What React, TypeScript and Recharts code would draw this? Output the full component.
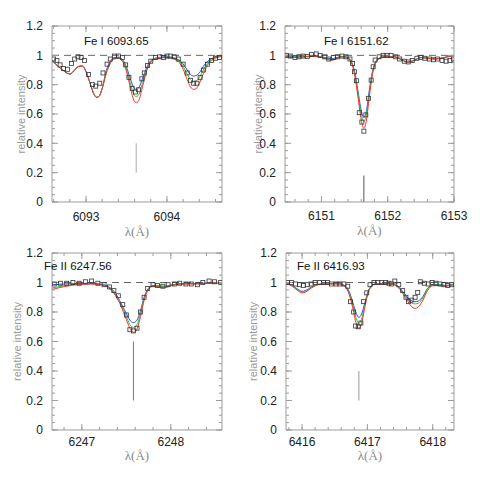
import React from 'react';
import { ComposedChart, Line, Scatter, XAxis, YAxis, ReferenceLine, Label } from 'recharts';

// ---------- shared tick labels ----------
const yMajor = [0, 0.2, 0.4, 0.6, 0.8, 1, 1.2];
const yMinor = [0, 0.05, 0.1, 0.15, 0.2, 0.25, 0.3, 0.35, 0.4, 0.45, 0.5, 0.55, 0.6, 0.65, 0.7, 0.75, 0.8, 0.85, 0.9, 0.95, 1, 1.05, 1.1, 1.15, 1.2];

// ---------- panel 1 : Fe I 6093.65 ----------
const p1Major = [6093, 6094];
const p1Minor = [6092.6, 6092.8, 6093.0, 6093.2, 6093.4, 6093.6, 6093.8, 6094.0, 6094.2, 6094.4, 6094.6];
const p1Grid = [6092.58, 6092.7, 6092.8, 6092.9, 6092.95, 6093.0, 6093.05, 6093.1, 6093.13, 6093.16, 6093.2, 6093.25, 6093.3, 6093.35, 6093.4, 6093.45, 6093.5, 6093.55, 6093.59, 6093.62, 6093.65, 6093.7, 6093.75, 6093.8, 6093.85, 6093.9, 6094.0, 6094.1, 6094.15, 6094.2, 6094.25, 6094.29, 6094.33, 6094.37, 6094.41, 6094.45, 6094.5, 6094.55, 6094.6, 6094.7];
const p1Red = [0.965, 0.905, 0.873, 0.922, 0.928, 0.89, 0.81, 0.733, 0.714, 0.72, 0.775, 0.875, 0.945, 0.975, 0.98, 0.96, 0.89, 0.775, 0.695, 0.677, 0.69, 0.79, 0.895, 0.952, 0.973, 0.98, 0.985, 0.972, 0.952, 0.905, 0.835, 0.785, 0.768, 0.778, 0.82, 0.875, 0.932, 0.963, 0.98, 0.995];
const p1Green = [0.965, 0.905, 0.873, 0.922, 0.928, 0.89, 0.81, 0.733, 0.714, 0.72, 0.775, 0.885, 0.952, 0.98, 0.985, 0.966, 0.905, 0.805, 0.735, 0.718, 0.73, 0.815, 0.905, 0.958, 0.977, 0.984, 0.988, 0.977, 0.962, 0.925, 0.872, 0.835, 0.82, 0.828, 0.858, 0.9, 0.945, 0.97, 0.984, 0.996];
const p1Blue = [0.965, 0.905, 0.873, 0.922, 0.928, 0.89, 0.81, 0.733, 0.714, 0.72, 0.775, 0.895, 0.958, 0.984, 0.988, 0.972, 0.92, 0.835, 0.78, 0.768, 0.778, 0.845, 0.918, 0.963, 0.98, 0.986, 0.99, 0.98, 0.968, 0.942, 0.9, 0.87, 0.859, 0.865, 0.888, 0.925, 0.958, 0.977, 0.988, 0.997];
const p1ObsX = [6092.6, 6092.64, 6092.68, 6092.72, 6092.77, 6092.82, 6092.86, 6092.9, 6092.94, 6092.98, 6093.03, 6093.08, 6093.12, 6093.17, 6093.21, 6093.26, 6093.3, 6093.35, 6093.4, 6093.45, 6093.49, 6093.53, 6093.57, 6093.61, 6093.65, 6093.69, 6093.72, 6093.76, 6093.8, 6093.86, 6093.91, 6093.96, 6094.0, 6094.04, 6094.09, 6094.14, 6094.2, 6094.25, 6094.29, 6094.33, 6094.37, 6094.41, 6094.45, 6094.5, 6094.55, 6094.6, 6094.65];
const p1ObsY = [0.975, 0.965, 0.935, 0.91, 0.905, 0.945, 0.975, 0.99, 0.985, 0.965, 0.87, 0.8, 0.79, 0.81, 0.88, 0.94, 0.975, 0.995, 0.995, 0.985, 0.935, 0.85, 0.775, 0.75, 0.765, 0.84, 0.88, 0.93, 0.96, 0.985, 0.99, 0.985, 0.995, 0.995, 0.99, 0.975, 0.94, 0.88, 0.83, 0.81, 0.81, 0.85, 0.9, 0.94, 0.965, 0.98, 0.985];

// ---------- panel 2 : Fe I 6151.62 ----------
const p2Major = [6151, 6152, 6153];
const p2Minor = [6150.6, 6150.8, 6151.0, 6151.2, 6151.4, 6151.6, 6151.8, 6152.0, 6152.2, 6152.4, 6152.6, 6152.8, 6153.0];
const p2Grid = [6150.45, 6150.6, 6150.75, 6150.9, 6151.0, 6151.1, 6151.16, 6151.22, 6151.3, 6151.38, 6151.45, 6151.5, 6151.55, 6151.6, 6151.64, 6151.68, 6151.72, 6151.77, 6151.82, 6151.88, 6151.95, 6152.1, 6152.2, 6152.3, 6152.4, 6152.5, 6152.6, 6152.7, 6152.8, 6152.9, 6153.0];
const p2Red = [0.99, 0.985, 0.99, 0.992, 0.985, 0.972, 0.966, 0.975, 0.99, 0.985, 0.95, 0.87, 0.72, 0.56, 0.502, 0.56, 0.71, 0.87, 0.95, 0.98, 0.99, 0.99, 0.972, 0.952, 0.965, 0.985, 0.98, 0.975, 0.98, 0.99, 1.0];
const p2Green = [0.992, 0.988, 0.992, 0.994, 0.988, 0.976, 0.972, 0.979, 0.992, 0.987, 0.955, 0.88, 0.74, 0.6, 0.547, 0.6, 0.735, 0.88, 0.955, 0.982, 0.99, 0.99, 0.972, 0.954, 0.966, 0.985, 0.98, 0.975, 0.98, 0.99, 1.0];
const p2Blue = [0.994, 0.99, 0.993, 0.995, 0.99, 0.98, 0.977, 0.983, 0.993, 0.989, 0.96, 0.89, 0.76, 0.625, 0.577, 0.625, 0.755, 0.89, 0.958, 0.983, 0.99, 0.99, 0.973, 0.956, 0.967, 0.985, 0.98, 0.975, 0.98, 0.99, 1.0];
const p2ObsX = [6150.47, 6150.53, 6150.6, 6150.66, 6150.72, 6150.79, 6150.85, 6150.92, 6150.98, 6151.05, 6151.11, 6151.18, 6151.24, 6151.31, 6151.37, 6151.43, 6151.47, 6151.5, 6151.53, 6151.57, 6151.61, 6151.64, 6151.67, 6151.71, 6151.75, 6151.78, 6151.81, 6151.87, 6151.93, 6151.99, 6152.05, 6152.12, 6152.18, 6152.25, 6152.31, 6152.37, 6152.44, 6152.5, 6152.56, 6152.63, 6152.69, 6152.75, 6152.82, 6152.88, 6152.94, 6152.99];
const p2ObsY = [1.0, 0.995, 0.985, 0.99, 0.995, 0.993, 1.005, 1.01, 1.0, 0.99, 0.975, 0.985, 0.99, 0.995, 0.99, 0.975, 0.945, 0.888, 0.827, 0.609, 0.545, 0.483, 0.594, 0.707, 0.831, 0.922, 0.968, 0.99, 1.0, 1.0, 1.0, 0.99, 0.975, 0.96, 0.955, 0.965, 0.98, 0.985, 0.98, 0.975, 0.97, 0.975, 0.965, 0.96, 0.965, 0.975];

// ---------- panel 3 : Fe II 6247.56 ----------
const p3Major = [6247, 6248];
const p3Minor = [6246.8, 6247.0, 6247.2, 6247.4, 6247.6, 6247.8, 6248.0, 6248.2, 6248.4];
const p3Grid = [6246.665, 6246.8, 6246.9, 6247.0, 6247.1, 6247.2, 6247.3, 6247.38, 6247.44, 6247.5, 6247.54, 6247.58, 6247.62, 6247.66, 6247.7, 6247.75, 6247.8, 6247.87, 6247.93, 6248.0, 6248.1, 6248.2, 6248.3, 6248.4, 6248.5, 6248.58];
const p3Red = [0.952, 0.972, 0.982, 0.988, 0.99, 0.985, 0.965, 0.91, 0.84, 0.75, 0.69, 0.662, 0.685, 0.77, 0.88, 0.955, 0.975, 0.968, 0.965, 0.978, 0.99, 0.99, 0.99, 0.995, 0.998, 0.998];
const p3Green = [0.963, 0.978, 0.986, 0.99, 0.992, 0.987, 0.968, 0.915, 0.85, 0.77, 0.715, 0.696, 0.715, 0.79, 0.89, 0.958, 0.978, 0.972, 0.97, 0.98, 0.99, 0.992, 0.992, 0.995, 0.998, 0.998];
const p3Blue = [0.985, 0.99, 0.992, 0.994, 0.995, 0.99, 0.972, 0.925, 0.86, 0.79, 0.745, 0.728, 0.745, 0.81, 0.9, 0.962, 0.98, 0.977, 0.975, 0.983, 0.992, 0.993, 0.993, 0.996, 0.998, 0.998];
const p3ObsX = [6246.69, 6246.76, 6246.83, 6246.9, 6246.97, 6247.04, 6247.11, 6247.18, 6247.25, 6247.31, 6247.36, 6247.41, 6247.46, 6247.5, 6247.54, 6247.58, 6247.62, 6247.66, 6247.7, 6247.74, 6247.8, 6247.85, 6247.91, 6247.97, 6248.04, 6248.1, 6248.17, 6248.23, 6248.3, 6248.36, 6248.43, 6248.49, 6248.56];
const p3ObsY = [0.99, 0.995, 0.995, 1.0, 0.995, 1.005, 1.01, 0.995, 0.985, 0.97, 0.945, 0.91, 0.85, 0.78, 0.68, 0.672, 0.69, 0.8, 0.9, 0.96, 0.985, 0.98, 0.975, 0.985, 0.99, 0.995, 0.99, 0.99, 0.985, 1.0, 1.01, 1.005, 1.0];

// ---------- panel 4 : Fe II 6416.93 ----------
const p4Major = [6416, 6417, 6418];
const p4Minor = [6415.8, 6416.0, 6416.2, 6416.4, 6416.6, 6416.8, 6417.0, 6417.2, 6417.4, 6417.6, 6417.8, 6418.0, 6418.2];
const p4Grid = [6415.755, 6415.85, 6415.95, 6416.0, 6416.05, 6416.15, 6416.25, 6416.4, 6416.55, 6416.65, 6416.72, 6416.78, 6416.83, 6416.87, 6416.91, 6416.96, 6417.02, 6417.1, 6417.2, 6417.35, 6417.45, 6417.55, 6417.62, 6417.68, 6417.73, 6417.78, 6417.85, 6417.92, 6418.0, 6418.1, 6418.2, 6418.33];
const p4Red = [0.995, 0.975, 0.94, 0.93, 0.935, 0.965, 0.985, 0.99, 0.99, 0.975, 0.92, 0.82, 0.72, 0.689, 0.72, 0.83, 0.94, 0.985, 0.99, 0.99, 0.975, 0.92, 0.87, 0.835, 0.825, 0.835, 0.88, 0.945, 0.978, 0.98, 0.975, 0.985];
const p4Green = [1.0, 0.978, 0.945, 0.935, 0.94, 0.968, 0.987, 0.992, 0.992, 0.978, 0.93, 0.84, 0.755, 0.723, 0.75, 0.845, 0.945, 0.987, 0.992, 0.992, 0.978, 0.93, 0.885, 0.86, 0.855, 0.86, 0.895, 0.955, 0.98, 0.985, 0.978, 0.988];
const p4Blue = [1.0, 0.98, 0.95, 0.94, 0.945, 0.97, 0.988, 0.993, 0.993, 0.98, 0.94, 0.86, 0.79, 0.764, 0.785, 0.86, 0.95, 0.988, 0.993, 0.993, 0.98, 0.935, 0.895, 0.875, 0.87, 0.875, 0.905, 0.96, 0.982, 0.986, 0.98, 0.99];
const p4ObsX = [6415.78, 6415.84, 6415.9, 6415.96, 6416.02, 6416.08, 6416.14, 6416.2, 6416.27, 6416.33, 6416.39, 6416.45, 6416.52, 6416.58, 6416.64, 6416.7, 6416.74, 6416.79, 6416.82, 6416.86, 6416.9, 6416.94, 6416.99, 6417.04, 6417.1, 6417.16, 6417.22, 6417.28, 6417.33, 6417.37, 6417.42, 6417.48, 6417.54, 6417.59, 6417.63, 6417.67, 6417.73, 6417.77, 6417.81, 6417.87, 6417.93, 6417.99, 6418.05, 6418.11, 6418.17, 6418.23, 6418.29];
const p4ObsY = [1.0, 1.0, 0.99, 0.985, 0.98, 0.985, 0.99, 1.0, 1.0, 1.0, 1.0, 0.99, 0.99, 0.99, 0.99, 0.975, 0.87, 0.8, 0.705, 0.7, 0.725, 0.87, 0.93, 0.985, 1.0, 1.0, 1.0, 1.0, 0.995, 0.99, 1.01, 0.985, 0.945, 0.9, 0.87, 0.88, 0.9, 0.933, 1.005, 0.995, 0.99, 1.0, 0.995, 0.99, 0.985, 0.98, 0.985];

const titles = ['Fe I 6093.65', 'Fe I 6151.62', 'Fe II 6247.56', 'Fe II 6416.93'];

// ---------- styling ----------
const FRAME = '#9c9c9c';
const SANS = '"Liberation Sans", Arial, Helvetica, sans-serif';
const SERIF = '"Liberation Serif", "Times New Roman", serif';
const RED = '#ff3030';
const GREEN = '#22cc22';
const BLUE = '#3340ff';
const AX = 0.01; // near-zero axis band so ticks sit on the frame

const pts = (xs: number[], ys: number[]) => xs.map((x, i) => ({ x, y: ys[i] }));

type Cfg = {
  left: number; top: number;
  margin: { top: number; right: number; bottom: number; left: number };
  domain: [number, number];
  major: number[]; minor: number[];
  grid: number[]; red: number[]; green: number[]; blue: number[];
  obsX: number[]; obsY: number[];
  title: string; titleX: number; titleY: number;
  marker: { x: number; y0: number; y1: number; color: string };
  xTickMargin: number; xLabelDy: number; yLabelDx: number;
};

const panels: Cfg[] = [
  {
    left: 0, top: 0, margin: { top: 26, right: 18, bottom: 38, left: 52 },
    domain: [6092.58, 6094.68], major: p1Major, minor: p1Minor,
    grid: p1Grid, red: p1Red, green: p1Green, blue: p1Blue, obsX: p1ObsX, obsY: p1ObsY,
    title: titles[0], titleX: 84, titleY: 41,
    marker: { x: 6093.62, y0: 0.2, y1: 0.4, color: '#aaaaaa' },
    xTickMargin: 16, xLabelDy: 30, yLabelDx: 31,
  },
  {
    left: 240, top: 0, margin: { top: 26, right: 26, bottom: 38, left: 45 },
    domain: [6150.45, 6153.0], major: p2Major, minor: p2Minor,
    grid: p2Grid, red: p2Red, green: p2Green, blue: p2Blue, obsX: p2ObsX, obsY: p2ObsY,
    title: titles[1], titleX: 84, titleY: 41,
    marker: { x: 6151.64, y0: 0, y1: 0.18, color: '#555555' },
    xTickMargin: 15, xLabelDy: 29, yLabelDx: 27,
  },
  {
    left: 0, top: 240, margin: { top: 13, right: 18, bottom: 50, left: 52 },
    domain: [6246.665, 6248.575], major: p3Major, minor: p3Minor,
    grid: p3Grid, red: p3Red, green: p3Green, blue: p3Blue, obsX: p3ObsX, obsY: p3ObsY,
    title: titles[2], titleX: 44, titleY: 26,
    marker: { x: 6247.58, y0: 0.2, y1: 0.6, color: '#777777' },
    xTickMargin: 13, xLabelDy: 26, yLabelDx: 35,
  },
  {
    left: 240, top: 240, margin: { top: 13, right: 26, bottom: 50, left: 46 },
    domain: [6415.755, 6418.325], major: p4Major, minor: p4Minor,
    grid: p4Grid, red: p4Red, green: p4Green, blue: p4Blue, obsX: p4ObsX, obsY: p4ObsY,
    title: titles[3], titleX: 57, titleY: 26,
    marker: { x: 6416.87, y0: 0.2, y1: 0.4, color: '#999999' },
    xTickMargin: 13, xLabelDy: 26, yLabelDx: 33,
  },
];

const Square = (p: any) =>
  p.cx == null ? null : (
    <rect x={p.cx - 2} y={p.cy - 2} width={4} height={4} fill="none" stroke="#333" strokeWidth={0.8} />
  );

// minor ticks: draw only the tick line, no label
const NoLabel = () => <g />;

function Panel({ c }: { c: Cfg }) {
  const obs = pts(c.obsX, c.obsY);
  const tickFont = { fill: '#222', fontSize: 12, fontFamily: SANS };
  const line = { stroke: FRAME };
  return (
    <div style={{ position: 'absolute', left: c.left, top: c.top, width: 240, height: 240 }}>
      <ComposedChart width={240} height={240} margin={c.margin}>
        <XAxis xAxisId="bn" type="number" dataKey="x" domain={c.domain} allowDataOverflow ticks={c.minor} interval={0}
          height={AX} tick={NoLabel} tickSize={-3} tickLine={line} axisLine={false} />
        <XAxis xAxisId="b" type="number" dataKey="x" domain={c.domain} allowDataOverflow ticks={c.major} interval={0}
          height={AX} tick={tickFont} tickSize={-6} tickMargin={c.xTickMargin} tickLine={line} axisLine={line}>
          <Label content={(p: any) => {
            const vb = p.viewBox || {};
            return (
              <text x={vb.x + vb.width / 2} y={vb.y + c.xLabelDy} textAnchor="middle" dominantBaseline="central"
                fill="#8a8a8a" fontSize={13} fontFamily={SERIF}>λ(Å)</text>
            );
          }} />
        </XAxis>
        <XAxis xAxisId="tn" orientation="top" type="number" dataKey="x" domain={c.domain} allowDataOverflow ticks={c.minor} interval={0}
          height={AX} tick={NoLabel} tickSize={-3} tickLine={line} axisLine={false} />
        <XAxis xAxisId="t" orientation="top" type="number" dataKey="x" domain={c.domain} allowDataOverflow ticks={c.major} interval={0}
          height={AX} tick={NoLabel} tickSize={-6} tickLine={line} axisLine={line} />
        <YAxis yAxisId="ln" type="number" dataKey="y" domain={[0, 1.2]} allowDataOverflow ticks={yMinor} interval={0}
          width={AX} tick={NoLabel} tickSize={-3} tickLine={line} axisLine={false} />
        <YAxis yAxisId="l" type="number" dataKey="y" domain={[0, 1.2]} allowDataOverflow ticks={yMajor} interval={0}
          width={AX} tick={tickFont} tickSize={-6} tickMargin={15} tickLine={line} axisLine={line}>
          <Label content={(p: any) => {
            const vb = p.viewBox || {};
            const cx = vb.x + vb.width - c.yLabelDx;
            const cy = vb.y + vb.height / 2;
            return (
              <text x={cx} y={cy} transform={`rotate(-90 ${cx} ${cy})`} textAnchor="middle" dominantBaseline="central"
                fill="#9a9a9a" fontSize={11} fontFamily={SANS}>relative intensity</text>
            );
          }} />
        </YAxis>
        <YAxis yAxisId="rn" orientation="right" type="number" dataKey="y" domain={[0, 1.2]} allowDataOverflow ticks={yMinor} interval={0}
          width={AX} tick={NoLabel} tickSize={-3} tickLine={line} axisLine={false} />
        <YAxis yAxisId="r" orientation="right" type="number" dataKey="y" domain={[0, 1.2]} allowDataOverflow ticks={yMajor} interval={0}
          width={AX} tick={NoLabel} tickSize={-6} tickLine={line} axisLine={line} />

        <ReferenceLine xAxisId="b" yAxisId="l" y={1} stroke="#555" strokeDasharray="7 5" strokeWidth={0.9} />
        <ReferenceLine xAxisId="b" yAxisId="l" stroke={c.marker.color} strokeWidth={1}
          segment={[{ x: c.marker.x, y: c.marker.y0 }, { x: c.marker.x, y: c.marker.y1 }]} />

        <Line xAxisId="b" yAxisId="l" data={pts(c.grid, c.blue)} dataKey="y" type="monotone" dot={false}
          stroke={BLUE} strokeWidth={1} isAnimationActive={false} />
        <Line xAxisId="b" yAxisId="l" data={pts(c.grid, c.green)} dataKey="y" type="monotone" dot={false}
          stroke={GREEN} strokeWidth={1} isAnimationActive={false} />
        <Line xAxisId="b" yAxisId="l" data={pts(c.grid, c.red)} dataKey="y" type="monotone" dot={false}
          stroke={RED} strokeWidth={1} isAnimationActive={false} />
        <Scatter xAxisId="b" yAxisId="l" data={obs} dataKey="y" shape={Square} isAnimationActive={false} />
      </ComposedChart>
      <div style={{ position: 'absolute', left: c.titleX, top: c.titleY - 7, fontFamily: SANS, fontSize: 11.5,
        lineHeight: '14px', color: '#111', whiteSpace: 'nowrap' }}>{c.title}</div>
    </div>
  );
}

export default function App() {
  return (
    <div style={{ position: 'absolute', left: 0, top: 0, width: 480, height: 480, background: '#fff' }}>
      {panels.map((c, i) => <Panel key={i} c={c} />)}
    </div>
  );
}
